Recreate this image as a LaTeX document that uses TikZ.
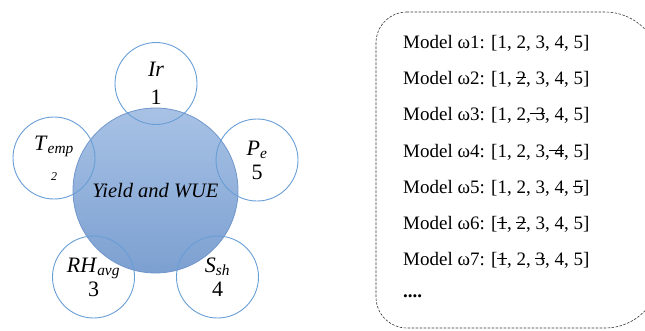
\documentclass[tikz,border=0pt]{standalone}
\usepackage{fontspec}
\setmainfont{Liberation Serif}
\usetikzlibrary{positioning}

\definecolor{ringblue}{RGB}{104,158,214}
\definecolor{coretop}{RGB}{168,194,229}
\definecolor{corebot}{RGB}{124,160,209}
\definecolor{coreline}{RGB}{112,150,204}

% crossed-out digit
\newcommand{\strikenum}[1]{\ooalign{#1\cr\hidewidth\rule[0.3em]{0.55em}{0.05em}\hidewidth\cr}}
\newcommand{\strikenumlong}[1]{\llap{\rule[0.3em]{0.3em}{0.05em}}\strikenum{#1}}

\tikzset{
  core/.style={circle, minimum size=165pt, inner sep=0pt, draw=coreline, line width=0.8pt,
    top color=coretop, bottom color=corebot, font=\fontsize{20.5}{24}\selectfont\itshape},
  factor/.style={circle, minimum size=82pt, inner sep=0pt, draw=ringblue, line width=0.9pt,
    align=center, font=\fontsize{22}{26}\selectfont},
  modelline/.style={anchor=west, inner sep=0pt, font=\fontsize{19}{22}\selectfont},
  listframe/.style={dash pattern=on 2.5pt off 1.5pt, line width=0.6pt, color=black!80}
}

\begin{document}
\begin{tikzpicture}[x=1pt,y=-1pt]
			\useasboundingbox (0,0) rectangle (645,330);

			% centre and the five factors
			\node[core] (yield) at (155.5,190.5) {Yield and WUE};
			\node[factor] (ir)   at (156,83.5)  {\textit{Ir}\\[2pt]1};
			\node[factor] (temp) at (54,158)    {\textit{T}\textsubscript{\textit{emp}}\\[4pt]{\fontsize{12}{14}\selectfont\textit{2}}};
			\node[factor] (pe)   at (257,160)   {\textit{P}\textsubscript{\textit{e}}\\[-2pt]5};
			\node[factor] (rh)   at (93.5,277)  {\textit{RH}\textsubscript{\textit{avg}}\\[-2pt]3};
			\node[factor] (ssh)  at (217.5,277) {\textit{S}\textsubscript{\textit{sh}}\\[-2pt]4};

			% model list (right side runs off the page)
			\draw[listframe] (407,12) arc[start angle=270, end angle=180, radius=31]
				-- (376,297) arc[start angle=180, end angle=90, radius=31]
				-- (605,328) arc[start angle=90, end angle=0, radius=55]
				-- (660,67) arc[start angle=0, end angle=-90, radius=55]
				-- cycle;
			\node[modelline] (m1) at (403,43)  {Model ω1: [1, 2, 3, 4, 5]};
			\node[modelline] (m2) at (403,79)  {Model ω2: [1, \strikenum{2}, 3, 4, 5]};
			\node[modelline] (m3) at (403,115) {Model ω3: [1, 2, \strikenumlong{3}, 4, 5]};
			\node[modelline] (m4) at (403,152) {Model ω4: [1, 2, 3, \strikenumlong{4}, 5]};
			\node[modelline] (m5) at (403,188) {Model ω5: [1, 2, 3, 4, \strikenum{5}]};
			\node[modelline] (m6) at (403,224) {Model ω6: [\strikenum{1}, \strikenum{2}, 3, 4, 5]};
			\node[modelline] (m7) at (403,260) {Model ω7: [\strikenum{1}, 2, \strikenum{3}, 4, 5]};
			\node[modelline] (more) at (403,296) {\textbf{....}};
\end{tikzpicture}
\end{document}
